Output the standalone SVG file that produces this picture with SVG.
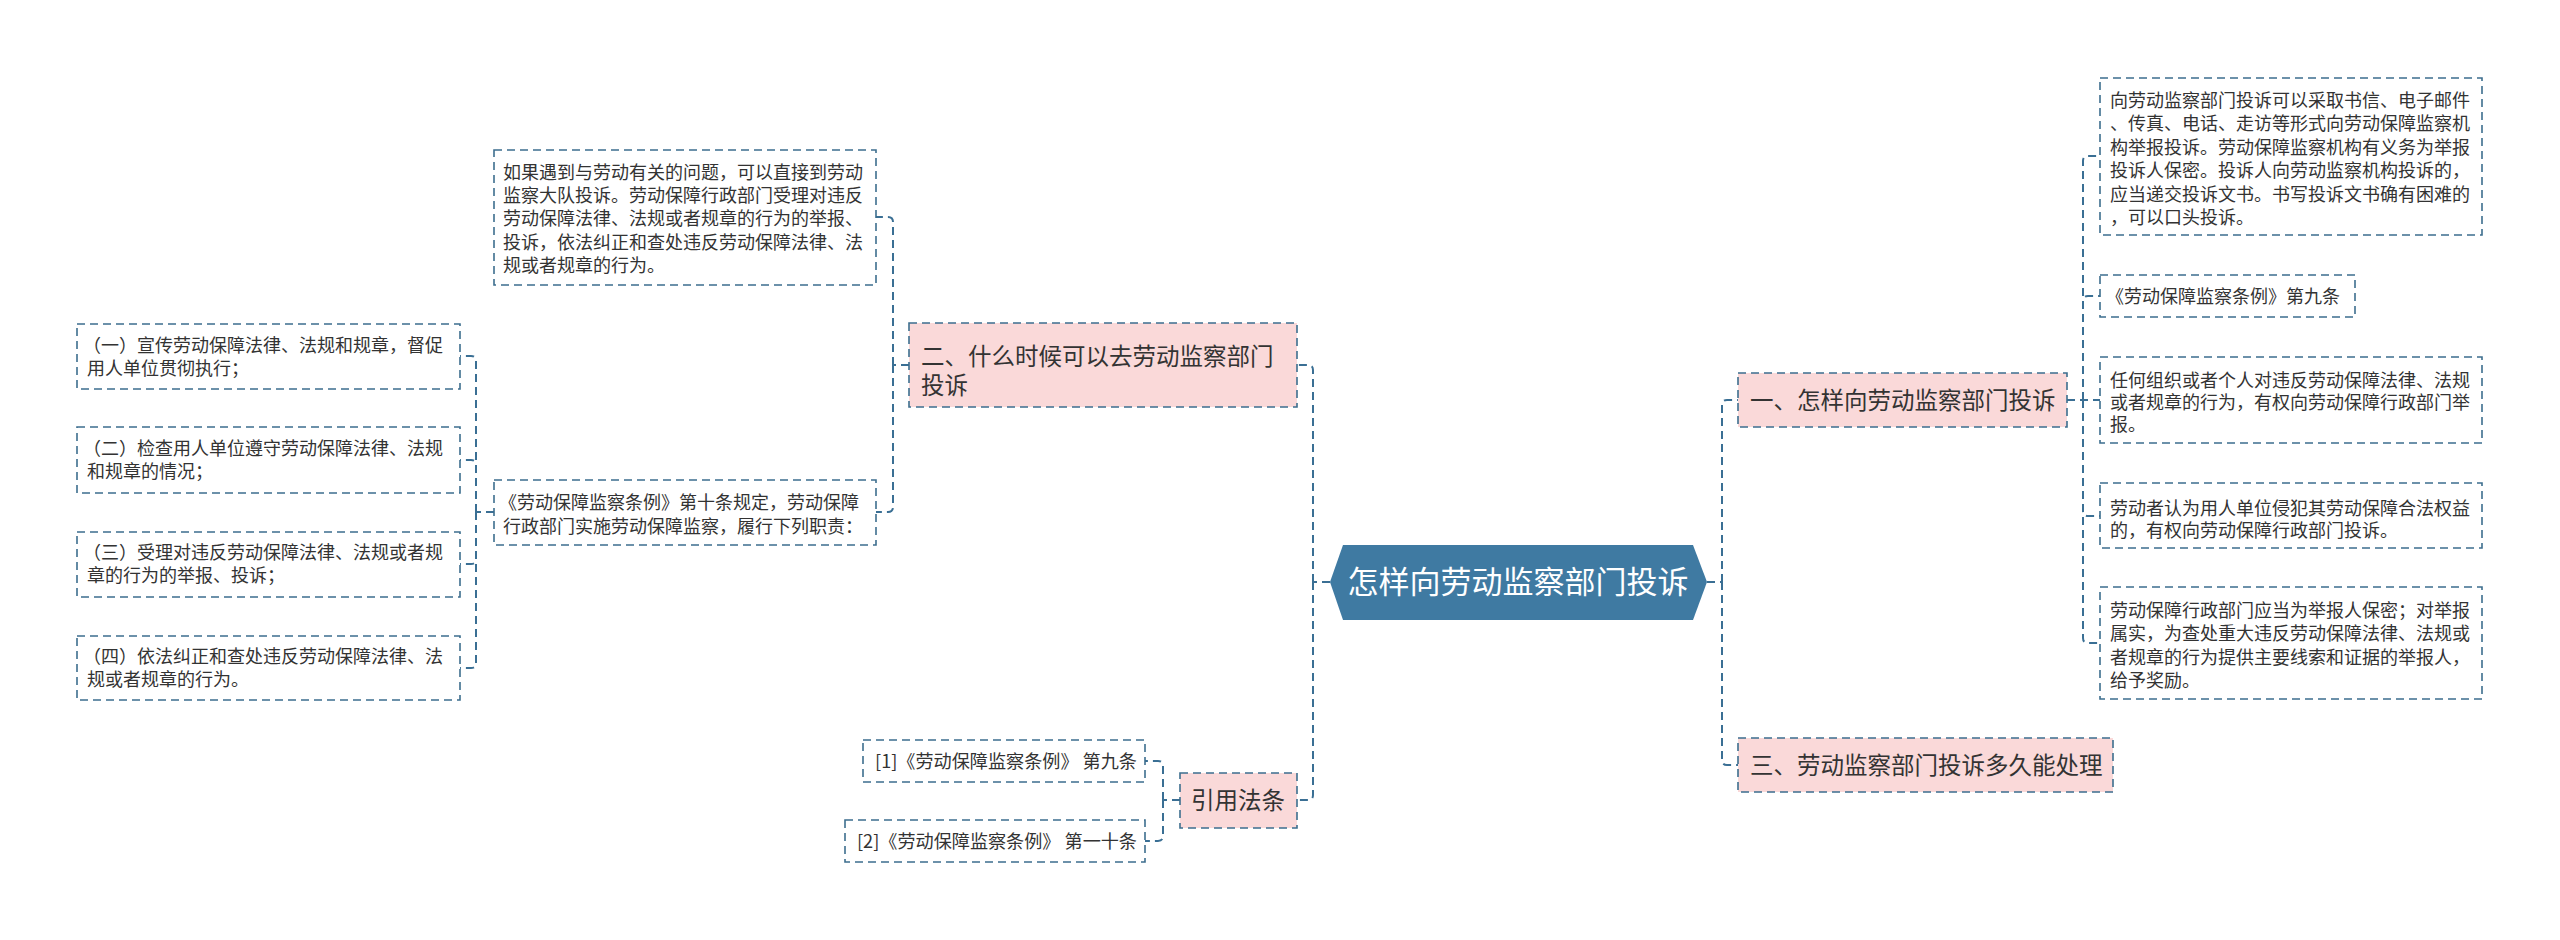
<svg xmlns="http://www.w3.org/2000/svg" width="2560" height="940" viewBox="0 0 2560 940">
<style>
.bg{fill:#ffffff}
.box{fill:#ffffff;stroke:#3d6e8e;stroke-width:1.6;stroke-dasharray:8 5}
.pink{fill:#fad9d9;stroke:#3d6e8e;stroke-width:1.6;stroke-dasharray:8 5}
.hex{fill:#3f7aa2}
.conn{fill:none;stroke:#3a6f94;stroke-width:2;stroke-dasharray:8 5}
.t{font-family:"Noto Sans CJK SC","Noto Sans",sans-serif;font-size:18px;fill:#333333}
.t1{font-family:"Noto Sans CJK SC","Noto Sans",sans-serif;font-size:23.5px;fill:#333333}
.t0{font-family:"Noto Sans CJK SC","Noto Sans",sans-serif;font-size:31px;fill:#ffffff}
</style>
<rect class="bg" x="0" y="0" width="2560" height="940"/>
<g id="connectors">
<path class="conn" d="M1707,582 H1722 M1722,582 V405 Q1722,400 1727,400 H1738 M1722,582 V760 Q1722,765 1727,765 H1738"/>
<path class="conn" d="M1330,582 H1313 M1313,582 V370 Q1313,365 1308,365 H1297 M1313,582 V795 Q1313,800 1308,800 H1297"/>
<path class="conn" d="M2067,400 H2100 M2083,400 V161 Q2083,156 2088,156 H2100 M2083,400 V301 Q2083,296 2088,296 H2100 M2083,400 V511 Q2083,516 2088,516 H2100 M2083,400 V638 Q2083,643 2088,643 H2100"/>
<path class="conn" d="M909,365 H893 M893,365 V222 Q893,217 888,217 H876 M893,365 V507 Q893,512 888,512 H876"/>
<path class="conn" d="M494,512 H476 M476,512 V361 Q476,356 471,356 H460 M476,512 V465 Q476,460 471,460 H460 M476,512 V559 Q476,564 471,564 H460 M476,512 V663 Q476,668 471,668 H460"/>
<path class="conn" d="M1180,800 H1163 M1163,800 V766 Q1163,761 1158,761 H1145 M1163,800 V836 Q1163,841 1158,841 H1145"/>
</g>
<g id="root">
<polygon class="hex" points="1330,582 1343,545 1693,545 1707,582 1693,620 1343,620"/>
<text class="t0" x="1518" y="593" text-anchor="middle">怎样向劳动监察部门投诉</text>
</g>
<g id="n1">
<rect class="pink" x="1738" y="373" width="329" height="54"/>
<text class="t1" x="1750" y="409">一、怎样向劳动监察部门投诉</text>
</g>
<g id="n1a">
<rect class="box" x="2100" y="78" width="382" height="157"/>
<text class="t" x="2110" y="107">向劳动监察部门投诉可以采取书信、电子邮件</text>
<text class="t" x="2110" y="130.4">、传真、电话、走访等形式向劳动保障监察机</text>
<text class="t" x="2110" y="153.8">构举报投诉。劳动保障监察机构有义务为举报</text>
<text class="t" x="2110" y="177.2">投诉人保密。投诉人向劳动监察机构投诉的，</text>
<text class="t" x="2110" y="200.6">应当递交投诉文书。书写投诉文书确有困难的</text>
<text class="t" x="2110" y="224">，可以口头投诉。</text>
</g>
<g id="n1b">
<rect class="box" x="2100" y="275" width="255" height="42"/>
<text class="t" x="2106" y="302.5">《劳动保障监察条例》第九条</text>
</g>
<g id="n1c">
<rect class="box" x="2100" y="357" width="382" height="86"/>
<text class="t" x="2110" y="386.5">任何组织或者个人对违反劳动保障法律、法规</text>
<text class="t" x="2110" y="408.5">或者规章的行为，有权向劳动保障行政部门举</text>
<text class="t" x="2110" y="430.5">报。</text>
</g>
<g id="n1d">
<rect class="box" x="2100" y="483" width="382" height="65"/>
<text class="t" x="2110" y="514.5">劳动者认为用人单位侵犯其劳动保障合法权益</text>
<text class="t" x="2110" y="536.5">的，有权向劳动保障行政部门投诉。</text>
</g>
<g id="n1e">
<rect class="box" x="2100" y="587" width="382" height="112"/>
<text class="t" x="2110" y="616.5">劳动保障行政部门应当为举报人保密；对举报</text>
<text class="t" x="2110" y="640">属实，为查处重大违反劳动保障法律、法规或</text>
<text class="t" x="2110" y="663.5">者规章的行为提供主要线索和证据的举报人，</text>
<text class="t" x="2110" y="687">给予奖励。</text>
</g>
<g id="n3">
<rect class="pink" x="1738" y="738" width="375" height="54"/>
<text class="t1" x="1750" y="774">三、劳动监察部门投诉多久能处理</text>
</g>
<g id="n2">
<rect class="pink" x="909" y="323" width="388" height="84"/>
<text class="t1" x="921" y="365" font-size="24">二、什么时候可以去劳动监察部门</text>
<text class="t1" x="921" y="394" font-size="24">投诉</text>
</g>
<g id="n2a">
<rect class="box" x="494" y="150" width="382" height="135"/>
<text class="t" x="503" y="178.5">如果遇到与劳动有关的问题，可以直接到劳动</text>
<text class="t" x="503" y="201.9">监察大队投诉。劳动保障行政部门受理对违反</text>
<text class="t" x="503" y="225.3">劳动保障法律、法规或者规章的行为的举报、</text>
<text class="t" x="503" y="248.7">投诉，依法纠正和查处违反劳动保障法律、法</text>
<text class="t" x="503" y="272.1">规或者规章的行为。</text>
</g>
<g id="n2b">
<rect class="box" x="494" y="480" width="382" height="65"/>
<text class="t" x="499" y="508.5">《劳动保障监察条例》第十条规定，劳动保障</text>
<text class="t" x="503" y="532.5">行政部门实施劳动保障监察，履行下列职责：</text>
</g>
<g id="n2b1">
<rect class="box" x="77" y="324" width="383" height="65"/>
<text class="t" x="83" y="351.5">（一）宣传劳动保障法律、法规和规章，督促</text>
<text class="t" x="87" y="375">用人单位贯彻执行；</text>
</g>
<g id="n2b2">
<rect class="box" x="77" y="427" width="383" height="66"/>
<text class="t" x="83" y="454.5">（二）检查用人单位遵守劳动保障法律、法规</text>
<text class="t" x="87" y="478">和规章的情况；</text>
</g>
<g id="n2b3">
<rect class="box" x="77" y="532" width="383" height="65"/>
<text class="t" x="83" y="558.5">（三）受理对违反劳动保障法律、法规或者规</text>
<text class="t" x="87" y="582">章的行为的举报、投诉；</text>
</g>
<g id="n2b4">
<rect class="box" x="77" y="636" width="383" height="64"/>
<text class="t" x="83" y="662.5">（四）依法纠正和查处违反劳动保障法律、法</text>
<text class="t" x="87" y="686">规或者规章的行为。</text>
</g>
<g id="n4">
<rect class="pink" x="1180" y="773" width="117" height="55"/>
<text class="t1" x="1191" y="809">引用法条</text>
</g>
<g id="n4a">
<rect class="box" x="863" y="740" width="282" height="42"/>
<text class="t" x="875" y="767.5" textLength="262" lengthAdjust="spacingAndGlyphs">[1]《劳动保障监察条例》 第九条</text>
</g>
<g id="n4b">
<rect class="box" x="845" y="820" width="300" height="42"/>
<text class="t" x="857" y="847.5" textLength="280" lengthAdjust="spacingAndGlyphs">[2]《劳动保障监察条例》 第一十条</text>
</g>
</svg>
